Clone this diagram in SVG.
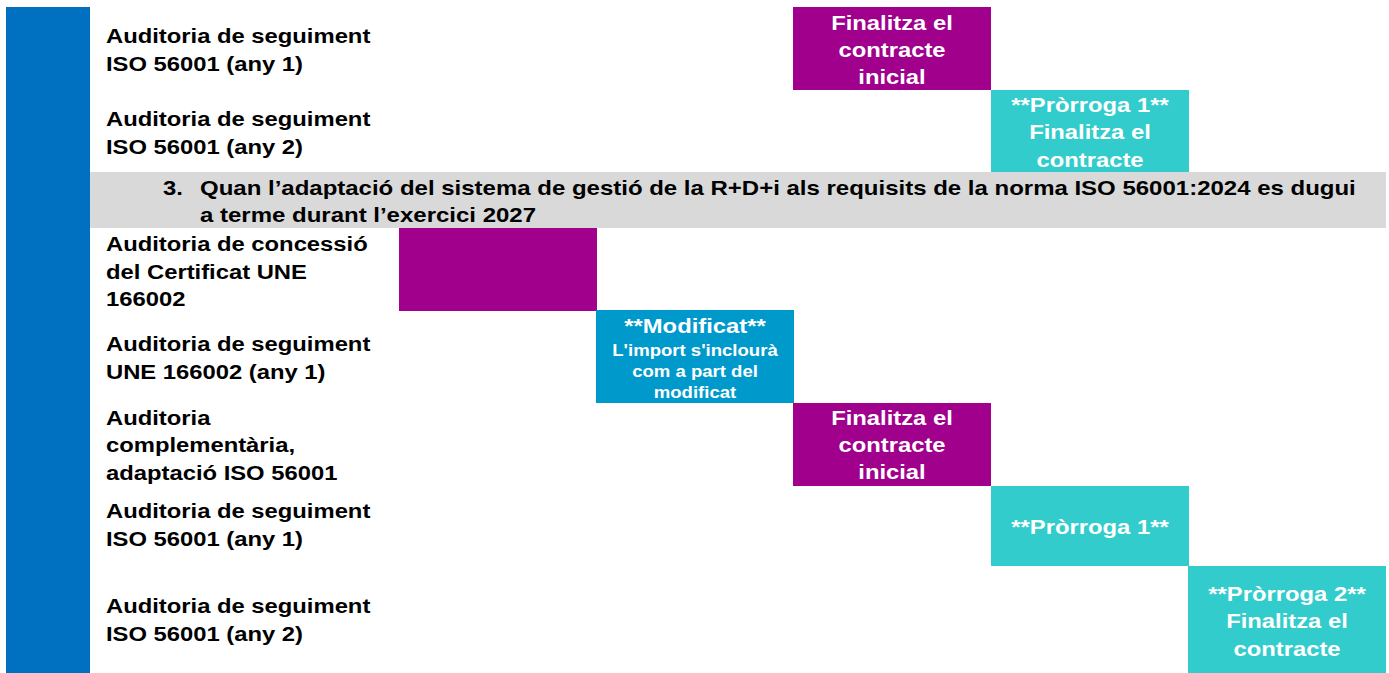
<svg xmlns="http://www.w3.org/2000/svg" width="1389" height="673" viewBox="0 0 1389 673">
<style>
.lbl{font-family:"Liberation Sans",Arial,sans-serif;font-weight:bold;font-size:20px;fill:#000}
.bx{font-family:"Liberation Sans",Arial,sans-serif;font-weight:bold;font-size:20px;fill:#fff;text-anchor:middle}
.sm{font-size:15.6px}
.purple{fill:#A0008C}
.teal{fill:#33CCCC}
.blue{fill:#0099CC}
</style>
<rect width="1389" height="673" fill="#fff"/>
<g id="sidebar"><rect x="6" y="7" width="84" height="666" fill="#0070C0"/></g>
<g id="header3">
<rect x="90" y="172" width="1296" height="56" fill="#D9D9D9"/>
<g transform="translate(163,0) scale(1.19,1)"><text class="lbl" x="0" y="195">3.</text></g>
<g transform="translate(200,0) scale(1.2,1)">
<text class="lbl" x="0" y="195">Quan l’adaptació del sistema de gestió de la R+D+i als requisits de la norma ISO 56001:2024 es dugui</text>
<text class="lbl" x="0" y="222">a terme durant l’exercici 2027</text>
</g>
</g>
<g id="labels" transform="translate(106,0) scale(1.19,1)">
<text class="lbl" x="0" y="43">Auditoria de seguiment</text>
<text class="lbl" x="0" y="71">ISO 56001 (any 1)</text>
<text class="lbl" x="0" y="126">Auditoria de seguiment</text>
<text class="lbl" x="0" y="154">ISO 56001 (any 2)</text>
<text class="lbl" x="0" y="251">Auditoria de concessió</text>
<text class="lbl" x="0" y="279">del Certificat UNE</text>
<text class="lbl" x="0" y="306">166002</text>
<text class="lbl" x="0" y="351">Auditoria de seguiment</text>
<text class="lbl" x="0" y="379">UNE 166002 (any 1)</text>
<text class="lbl" x="0" y="425">Auditoria</text>
<text class="lbl" x="0" y="452">complementària,</text>
<text class="lbl" x="0" y="480">adaptació ISO 56001</text>
<text class="lbl" x="0" y="518">Auditoria de seguiment</text>
<text class="lbl" x="0" y="546">ISO 56001 (any 1)</text>
<text class="lbl" x="0" y="613">Auditoria de seguiment</text>
<text class="lbl" x="0" y="641">ISO 56001 (any 2)</text>
</g>
<g id="bar1">
<rect class="purple" x="793" y="7" width="198" height="83"/>
<g transform="translate(892,0) scale(1.19,1)">
<text class="bx" x="0" y="30">Finalitza el</text>
<text class="bx" x="0" y="57">contracte</text>
<text class="bx" x="0" y="84">inicial</text>
</g>
</g>
<g id="bar2">
<rect class="teal" x="991" y="90" width="198" height="82"/>
<g transform="translate(1090,0) scale(1.19,1)">
<text class="bx" x="0" y="112">**Pròrroga 1**</text>
<text class="bx" x="0" y="139">Finalitza el</text>
<text class="bx" x="0" y="167">contracte</text>
</g>
</g>
<g id="bar3">
<rect class="purple" x="399" y="228" width="198" height="83"/>
</g>
<g id="bar4">
<rect class="blue" x="596" y="310" width="198" height="93"/>
<g transform="translate(695,0) scale(1.19,1)">
<text class="bx" x="0" y="333">**Modificat**</text>
<text class="bx sm" x="0" y="356">L'import s'inclourà</text>
<text class="bx sm" x="0" y="377">com a part del</text>
<text class="bx sm" x="0" y="398">modificat</text>
</g>
</g>
<g id="bar5">
<rect class="purple" x="793" y="403" width="198" height="83"/>
<g transform="translate(892,0) scale(1.19,1)">
<text class="bx" x="0" y="425">Finalitza el</text>
<text class="bx" x="0" y="452">contracte</text>
<text class="bx" x="0" y="479">inicial</text>
</g>
</g>
<g id="bar6">
<rect class="teal" x="991" y="486" width="198" height="80"/>
<g transform="translate(1090,0) scale(1.19,1)">
<text class="bx" x="0" y="534">**Pròrroga 1**</text>
</g>
</g>
<g id="bar7">
<rect class="teal" x="1188" y="566" width="198" height="107"/>
<g transform="translate(1287,0) scale(1.19,1)">
<text class="bx" x="0" y="601">**Pròrroga 2**</text>
<text class="bx" x="0" y="628">Finalitza el</text>
<text class="bx" x="0" y="656">contracte</text>
</g>
</g>
<g id="connectors"></g>
</svg>
